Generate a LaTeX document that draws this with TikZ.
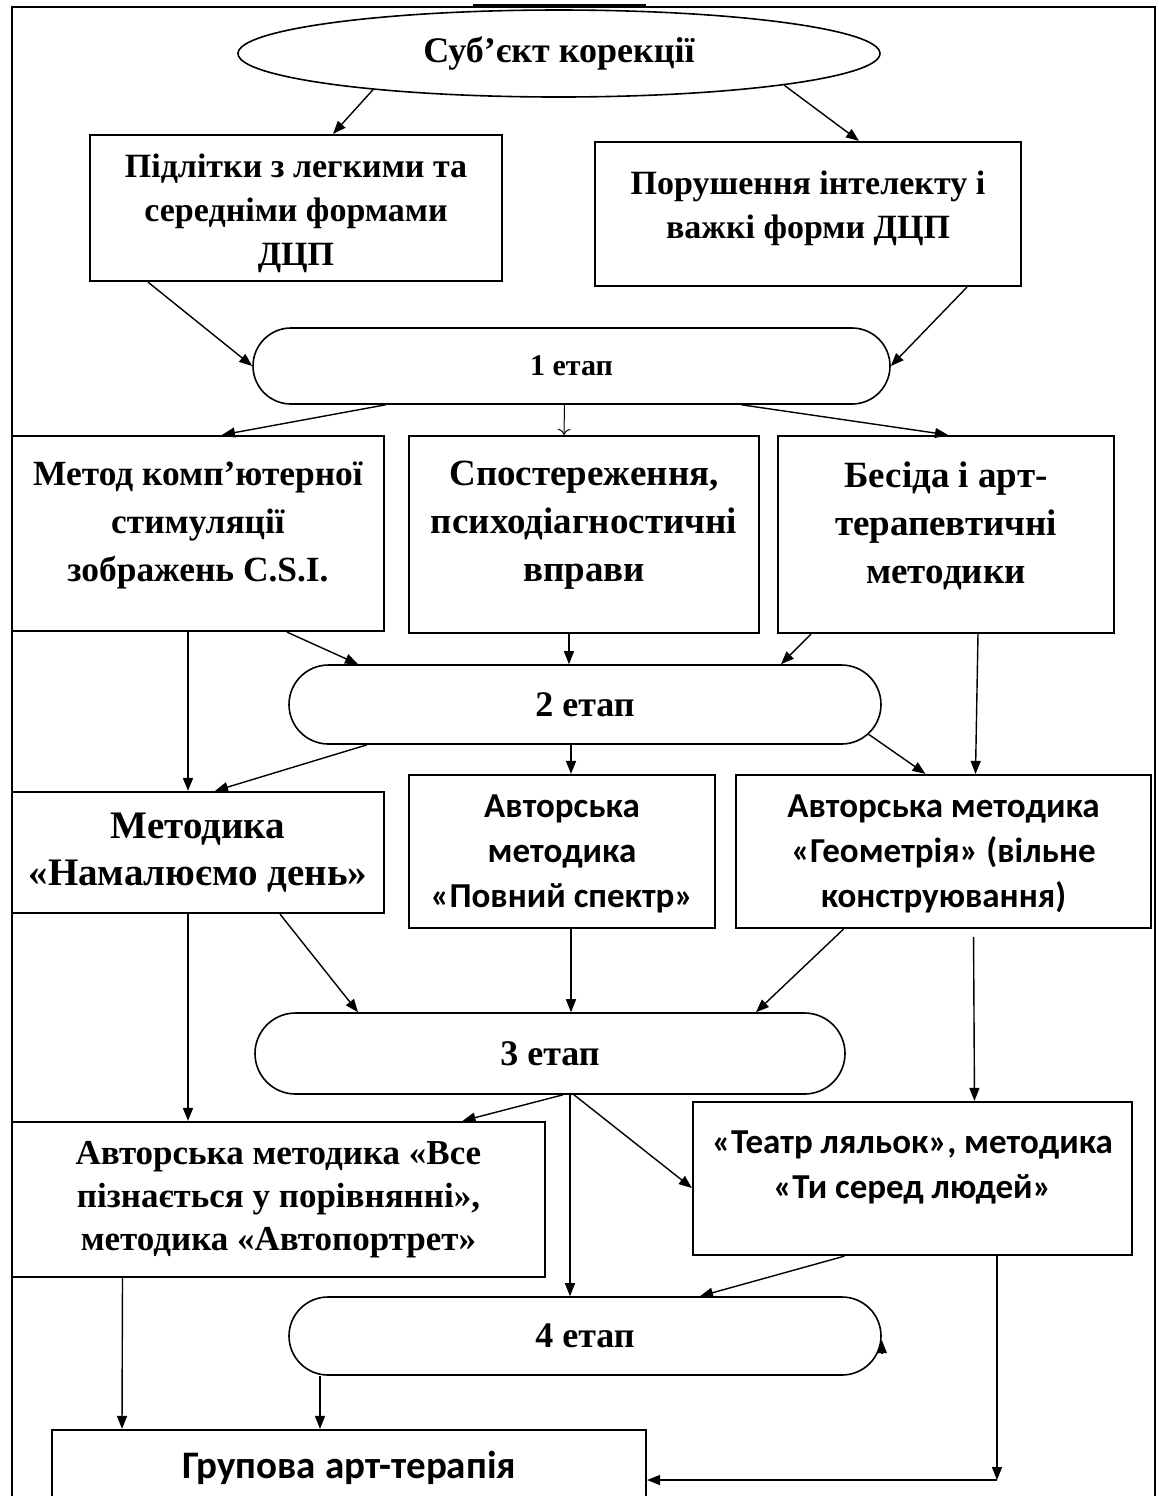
\documentclass[tikz,border=0pt]{standalone}
\usepackage{fontspec}
\setmainfont{Liberation Serif}
\newfontfamily\calibri{Carlito}
\usetikzlibrary{arrows.meta,shapes.geometric,shapes.misc}

\begin{document}
\begin{tikzpicture}[x=0.5pt,y=-0.5pt,
    box/.style={draw,line width=1.1pt,inner sep=0pt},
    txt/.style={align=center,inner sep=0pt,font=\fontsize{17}{22}\selectfont\bfseries},
    bigtxt/.style={txt,font=\fontsize{18.5}{24}\selectfont\bfseries},
    stxt/.style={txt,font=\calibri\fontsize{17.5}{22.5}\selectfont\bfseries},
    stage/.style={draw,rounded rectangle,line width=0.8pt,inner sep=0pt,
        font=\fontsize{18}{20}\selectfont\bfseries},
    arr/.style={-{Triangle[length=6.5pt,width=5pt]},line width=0.7pt}]
\useasboundingbox (0,0) rectangle (1159,1496);
% frame
\draw[line width=1pt] (12,1500) -- (12,7) -- (1155,7) -- (1155,1500);
\draw[line width=2pt] (473,6) -- (646,6);

\node[ellipse,draw,line width=0.8pt,minimum width=321pt,minimum height=43.5pt,inner sep=0pt,
    font=\fontsize{18}{20}\selectfont\bfseries] (subj) at (559,53.5) {Суб'єкт корекції};

% row 2
\node[box,minimum width=206pt,minimum height=73pt] (teen) at (296,208) {};
\node[txt] (teen-t) at ([yshift=-2.5pt]teen.center) {Підлітки з легкими та\\середніми формами\\ДЦП};
\node[box,minimum width=213pt,minimum height=72pt] (severe) at (808,214) {};
\node[txt] (severe-t) at ([yshift=3pt]severe.center) {Порушення інтелекту і\\важкі форми ДЦП};

% stages
\node[stage,minimum width=318.5pt,minimum height=38pt,font=\fontsize{15}{17}\selectfont\bfseries] (s1) at (571.5,366) {1 етап};
\node[stage,minimum width=296pt,minimum height=39.5pt] (s2) at (585,704.5) {2 етап};
\node[stage,minimum width=295pt,minimum height=40.5pt] (s3) at (550,1053.5) {3 етап};
\node[stage,minimum width=296pt,minimum height=39pt] (s4) at (585,1336) {4 етап};

% row 3
\node[box,minimum width=186pt,minimum height=97.5pt] (csi) at (198,533.5) {};
\node[bigtxt,font=\fontsize{17.7}{24}\selectfont\bfseries] (csi-t) at ([yshift=4pt]csi.center) {Метод комп'ютерної\\стимуляції\\зображень C.S.I.};
\node[box,minimum width=175pt,minimum height=98.5pt] (obs) at (584,534.5) {};
\node[bigtxt] (obs-t) at ([yshift=4.5pt]obs.center) {Спостереження,\\психодіагностичні\\вправи};
\node[box,minimum width=168pt,minimum height=98.5pt] (talk) at (946,534.5) {};
\node[bigtxt] (talk-t) at ([yshift=4.5pt]talk.center) {Бесіда і арт-\\терапевтичні\\методики};

% row 4
\node[box,minimum width=186pt,minimum height=60.5pt] (day) at (198,852.5) {};
\node[txt,font=\fontsize{19.5}{23.5}\selectfont\bfseries] (day-t) at (day.center) {Методика\\«Намалюємо день»};
\node[box,minimum width=153pt,minimum height=76.5pt] (spec) at (562,851.5) {};
\node[stxt] (spec-t) at ([yshift=-1pt]spec.center) {Авторська\\методика\\«Повний спектр»};
\node[box,minimum width=207.5pt,minimum height=76.5pt] (geom) at (943.5,851.5) {};
\node[stxt] (geom-t) at ([yshift=-1pt]geom.center) {Авторська методика\\«Геометрія» (вільне\\конструювання)};

% row 5
\node[box,minimum width=266.5pt,minimum height=77.5pt] (comp) at (278.5,1199.5) {};
\node[txt,font=\fontsize{17.5}{21.5}\selectfont\bfseries] (comp-t) at (comp.center) {Авторська методика «Все\\пізнається у порівнянні»,\\методика «Автопортрет»};
\node[box,minimum width=219.5pt,minimum height=76.5pt] (puppet) at (912.5,1178.5) {};
\node[stxt] (puppet-t) at ([yshift=5.5pt]puppet.center) {«Театр ляльок», методика\\«Ти серед людей»};
\node[box,minimum width=297pt,minimum height=50pt] (group) at (349,1480) {};
\node[stxt,font=\calibri\fontsize{19.5}{22}\selectfont\bfseries] (group-t) at ([yshift=6pt]group.center) {Групова арт-терапія};
\coordinate (turn) at ([xshift=42.25pt]puppet.south |- group.east);

% arrows
\draw[arr] (subj.191) -- ([xshift=18.5pt]teen.north);
\draw[arr] (subj.352) -- ([xshift=25.5pt]severe.north);
\draw[arr] ([xshift=-74pt]teen.south) -- (s1.west);
\draw[arr] ([xshift=79.5pt]severe.south) -- (s1.east);

\draw[arr] ([xshift=-93pt]s1.south) -- ([xshift=12pt]csi.north);
\draw[-{To[length=3pt]},line width=0.5pt] ([xshift=-3.5pt]s1.south) -- ([xshift=-10pt]obs.north);
\draw[arr] ([xshift=85pt]s1.south) -- ([xshift=1pt]talk.north);

\draw[arr] ([xshift=44.5pt]csi.south) -- ([xshift=-113.5pt]s2.north);
\draw[arr] ([xshift=-7.5pt]obs.south) -- ([xshift=-8pt]s2.north);
\draw[arr] ([xshift=-67.5pt]talk.south) -- ([xshift=98pt]s2.north);
\draw[arr] ([xshift=-5pt]csi.south) -- ([xshift=-5pt]day.north);
\draw[arr] ([xshift=16pt]talk.south) -- ([xshift=16pt]geom.north);

\draw[arr] ([xshift=-109pt]s2.south) -- ([xshift=8.5pt]day.north);
\draw[arr] ([xshift=-7pt]s2.south) -- ([xshift=4.5pt]spec.north);
\draw[arr] (s2.354) -- ([xshift=-9pt]geom.north);

\draw[arr] ([xshift=41pt]day.south) -- ([xshift=-96pt]s3.north);
\draw[arr] ([xshift=4.5pt]spec.south) -- ([xshift=10.5pt]s3.north);
\draw[arr] ([xshift=-50pt]geom.south) -- ([xshift=103pt]s3.north);
\draw[arr] ([xshift=-5pt]day.south) -- ([xshift=-45.25pt]comp.north);
\draw[arr,shorten <=4pt] ([xshift=15pt]geom.south) -- ([xshift=31pt]puppet.north);

\draw[arr] ([xshift=6.5pt]s3.south) -- ([xshift=92pt]comp.north);
\draw[arr] ([xshift=12pt]s3.south) -- ([yshift=-4.75pt]puppet.west);
\draw[arr] ([xshift=10pt]s3.south) -- ([xshift=-7.5pt]s4.north);

\draw[arr] ([xshift=-34pt]puppet.south) -- ([xshift=57.5pt]s4.north);
\draw[arr] ([yshift=-9pt]s4.east) -- ([yshift=-2pt]s4.east);
\draw[arr] ([xshift=-78pt]comp.south) -- ([xshift=-113.5pt]group.north);
\draw[arr] ([xshift=-132.5pt]s4.south) -- ([xshift=-14.5pt]group.north);
\draw[arr] ([xshift=42.25pt]puppet.south) -- (turn);
\draw[arr] (turn) -- (group.east);
\end{tikzpicture}
\end{document}
